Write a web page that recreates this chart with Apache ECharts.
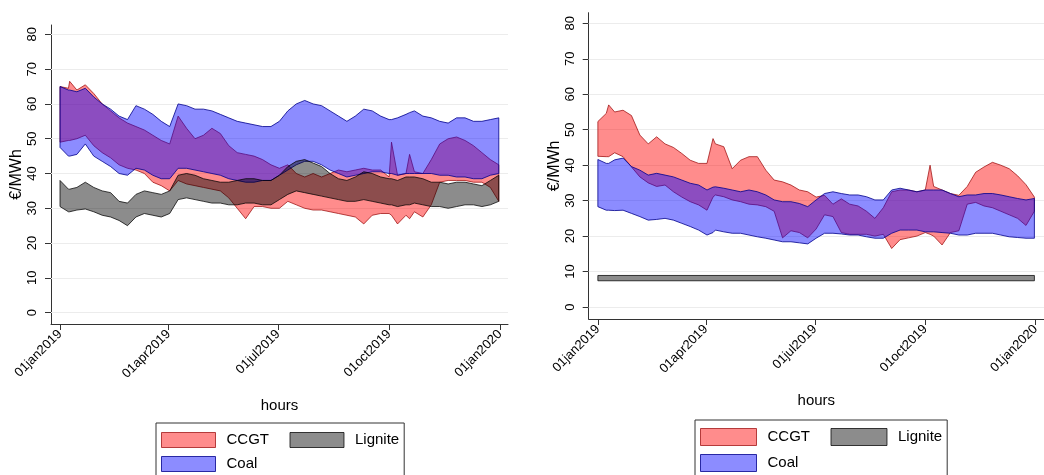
<!DOCTYPE html>
<html><head><meta charset="utf-8">
<script src="https://cdn.jsdelivr.net/npm/echarts@6/dist/echarts.min.js"></script>
<style>html,body{margin:0;padding:0;background:#fff}#c{width:1044px;height:475px}</style>
</head><body><div id="c"></div>
<script>
// ---- tick labels ----
const tickDays = [0, 90, 181, 273, 365];
const tickLabels = ['01jan2019', '01apr2019', '01jul2019', '01oct2019', '01jan2020'];
const yTicks = [0, 10, 20, 30, 40, 50, 60, 70, 80];

// ---- left panel (days since 01jan2019) ----
const L_days = [0,7,8,14,21,28,35,42,49,56,63,70,77,84,91,98,105,112,119,126,133,140,147,154,161,168,175,182,189,196,203,210,217,224,231,238,245,252,259,266,273,275,280,287,290,294,301,308,315,322,329,336,343,350,357,364];
const L_ccgtHigh = [65,64.5,66.5,64,65.5,63,60,58,56,54.5,53.5,52.5,51,49.5,48.5,56.5,53,50,51,53,51.5,48,46,45.5,45,44,42.5,41.5,42.5,40,39,40,39,40,41,40.5,41,41.5,41,41,39,49,39.5,40,45.5,40.5,40,44,48.5,50,50.5,49.5,48,46,44,42.5];
const L_ccgtLow = [49,49.5,49.5,50,51,48,46,44.5,42.5,41.5,41,40,37.5,36.5,35,38,37,36.5,36,35.5,35,33,30,27,30.5,30.5,30,30,32,31,30,29.5,29.5,29,28.5,28,27.5,25.5,28,28.5,28.5,28,25.5,28,27,29,27.5,31,37.5,38,38,38,37.5,37.5,36,32];
const L_coalHigh = [65,64,64,63.5,64.5,62,60,58.5,56.5,55.5,59.5,58.5,57,55,53.5,60,59.5,58.5,58.5,58,57,56,55,54.5,54,53.5,53.5,55,58,60,61,60,59.5,58,56.5,55,56.5,58.5,58,56.5,55.5,55.5,56,57,57.5,58,56.5,56,55,54.5,56,56,55,55,55.5,56];
const L_coalLow = [47.5,45,45,45.5,48.5,45,43.5,42,40,39.5,41.5,41,39.5,38.5,38.5,41.5,41.5,41,40.5,40,39.5,38.5,38,37.5,37.5,38,38,39.5,41,42.5,43.5,43.5,42.5,41,40,39,39.5,40,40.5,40.5,40,40,39.5,40,40,40,40,40,39.5,39.5,39,39,38.5,38.5,39.5,40];
const L_ligHigh = [38,35.5,35.5,36,37.5,36,35,34.5,32,31.5,34,35,34.5,34,35,39.5,40,39.5,38.5,38,37.5,37.5,38,38.5,38.5,38,38,39.5,42,43.5,44,43,42,40,38.5,38,39,40.5,40,39,38.5,38.5,38,39,39,39,38.5,37.5,37.5,37,37.5,37.5,37,36.5,38,39.5];
const L_ligLow = [30.5,29,29,29.5,29.8,29,28,27.5,26.5,25,27.5,28.5,28,27.5,28.5,32.5,33,32.5,32,31.5,31.5,31,31,31.5,31.5,31,31,32.5,34,35,34.5,34,33.5,33,32.5,32,32,32.5,32,31.5,31,31,30.5,31,31,31.5,31,30.5,30.5,30,30.5,31,31,30.5,31,32];

// ---- right panel ----
const R_days = [0,7,9,14,21,28,35,42,49,56,63,70,77,84,91,96,98,105,112,119,126,133,140,147,154,161,168,175,182,189,196,203,210,217,224,231,238,245,252,259,266,273,277,280,287,294,301,308,315,322,329,336,343,350,357,364];
const R_ccgtHigh = [52.3,54.6,57,55,55.5,54,48.5,46,48,46,45,43.3,41.4,40.5,40.5,47.5,46,45.2,39,41.4,42.4,42.4,38.6,35.8,35.3,34.4,33,32.5,31,31.5,29,30.5,29,28.5,27,25,28,32.5,33,33,32.5,33,40,34,33,32,31.5,34,38,39.5,40.8,40,39,37,34.5,31];
const R_ccgtLow = [42.5,42.4,42.4,43.5,42.4,39.5,36.7,35,34,34.4,32.5,31,29.7,28.8,27.3,31,31.6,31.1,30.2,29.7,29,28.8,28.3,27,19.5,21.5,21,19.5,22,26,25.5,21,20.5,20.5,20.5,20,20.5,16.5,19,19.5,20,21,20.5,20,17.5,21,21.5,29,29.5,28.5,28,27,26,25,23,27];
const R_coalHigh = [41.6,40.5,40.5,41.5,42,39.6,38.6,37.2,37.7,37.2,36.7,35.8,34.9,34.4,33,33.8,33.9,33.5,33,32.5,33,32.5,31.6,30.2,29.7,29.7,29.2,28.3,30.2,32,32.5,32,31.6,31.6,31.1,30.2,30.2,33,33.5,33,32.5,33,33,33,33,32,31.1,31.6,31.6,32,32,31.6,31.1,30.6,30.2,30.6];
const R_coalLow = [28.3,27.3,27.3,27.2,27.3,26.4,25.5,24.5,24.7,25,24.5,23.6,22.7,21.7,20.3,21,21.7,21.2,20.8,20.8,20.3,19.8,19.4,18.9,18.4,18.4,18.1,17.8,19.4,20.8,20.8,20.6,20.3,20.3,19.8,19.4,19.4,20.8,21.7,21.7,21.7,21.2,21.2,21.2,21,20.8,20.3,20.3,20.8,20.8,20.8,20.3,19.8,19.6,19.4,19.4];
const R_ligDays = [0, 364];
const R_ligHigh = [8.9, 8.9];
const R_ligLow = [7.4, 7.4];

// ---- styles ----
const FONT = '"Liberation Sans", Arial, sans-serif';
const COL = {
  CCGT: { fill: 'rgba(255,0,0,0.45)', stroke: 'rgba(150,0,0,0.7)' },
  Coal: { fill: 'rgba(0,0,255,0.45)', stroke: 'rgba(0,0,140,0.8)' },
  Lignite: { fill: 'rgba(0,0,0,0.45)', stroke: 'rgba(0,0,0,0.75)' }
};

function band(name, idx, days, lo, hi, withGrid) {
  const data = days.map((d, i) => [d, lo[i], hi[i]]);
  const c = COL[name];
  const s = {
    type: 'custom', name: name, xAxisIndex: idx, yAxisIndex: idx,
    data: data, encode: { x: 0, y: [1, 2] }, clip: true, z: 2,
    itemStyle: { color: c.fill },
    renderItem: function (params, api) {
      if (params.dataIndex !== 0) return null;
      const top = data.map(r => api.coord([r[0], r[2]]));
      const bot = data.map(r => api.coord([r[0], r[1]])).reverse();
      return { type: 'polygon', shape: { points: top.concat(bot) },
        style: { fill: c.fill, stroke: c.stroke, lineWidth: 1 } };
    }
  };
  if (withGrid) {
    s.markLine = { silent: true, symbol: 'none', z: 1, animation: false,
      label: { show: false }, lineStyle: { color: '#ececec', width: 1, type: 'solid' },
      data: yTicks.map(v => ({ yAxis: v })) };
  }
  return s;
}

function xAx(idx, min, max) {
  return { type: 'value', gridIndex: idx, min: min, max: max,
    name: 'hours', nameLocation: 'middle', nameGap: 74,
    nameTextStyle: { fontSize: 15, color: '#000', fontFamily: FONT },
    axisLine: { show: true, onZero: false, lineStyle: { color: '#333', width: 1 } },
    axisTick: { show: true, length: 6, customValues: tickDays, lineStyle: { color: '#333' } },
    axisLabel: { customValues: tickDays, rotate: 45, margin: 8, fontSize: 13, color: '#000', fontFamily: FONT,
      formatter: v => tickLabels[tickDays.indexOf(v)] },
    splitLine: { show: false } };
}
function yAx(idx, min, max) {
  return { type: 'value', gridIndex: idx, min: min, max: max,
    name: '€/MWh', nameLocation: 'middle', nameGap: 26,
    nameTextStyle: { fontSize: 16, color: '#000', fontFamily: FONT },
    axisLine: { show: true, onZero: false, lineStyle: { color: '#333', width: 1 } },
    axisTick: { show: true, length: 6, customValues: yTicks, lineStyle: { color: '#333' } },
    axisLabel: { customValues: yTicks, rotate: 90, margin: 12, fontSize: 13, color: '#000', fontFamily: FONT },
    splitLine: { show: false } };
}
const NB = '\u00a0';
function legend(left, top, w, iw, ih, padTop) {
  return { left: left, top: top, width: w, orient: 'horizontal', icon: 'rect',
    padding: [padTop, 5, 12, 5], borderColor: '#333', borderWidth: 1,
    itemWidth: iw, itemHeight: ih, itemGap: 8, selectedMode: false,
    formatter: n => (n === 'Lignite' ? n : n + NB + NB + NB),
    textStyle: { fontSize: 15, color: '#000', fontFamily: FONT, padding: [0, 0, 0, 6] },
    data: ['CCGT', 'Lignite', 'Coal'].map(n => ({ name: n,
      itemStyle: { color: COL[n].fill, borderColor: COL[n].stroke, borderWidth: 1 } })) };
}

const chart = echarts.init(document.getElementById('c'), null, { renderer: 'canvas' });
chart.setOption({
  animation: false,
  backgroundColor: '#fff',
  textStyle: { fontFamily: FONT },
  grid: [
    { left: 51, top: 25, width: 457, height: 299 },
    { left: 588.7, top: 12.7, width: 461.5, height: 306.3 }
  ],
  xAxis: [xAx(0, -7.47, 371.64), xAx(1, -7.65, 372)],
  yAxis: [yAx(0, -3.26, 82.69), yAx(1, -3.38, 83.0)],
  legend: [
    legend(156, 423, 246, 54, 15, 9),
    legend(695, 420, 250, 56, 17, 8)
  ],
  series: [
    band('CCGT', 0, L_days, L_ccgtLow, L_ccgtHigh, true),
    band('Coal', 0, L_days, L_coalLow, L_coalHigh, false),
    band('Lignite', 0, L_days, L_ligLow, L_ligHigh, false),
    band('CCGT', 1, R_days, R_ccgtLow, R_ccgtHigh, true),
    band('Coal', 1, R_days, R_coalLow, R_coalHigh, false),
    band('Lignite', 1, R_ligDays, R_ligLow, R_ligHigh, false)
  ]
});
</script>
</body></html>
